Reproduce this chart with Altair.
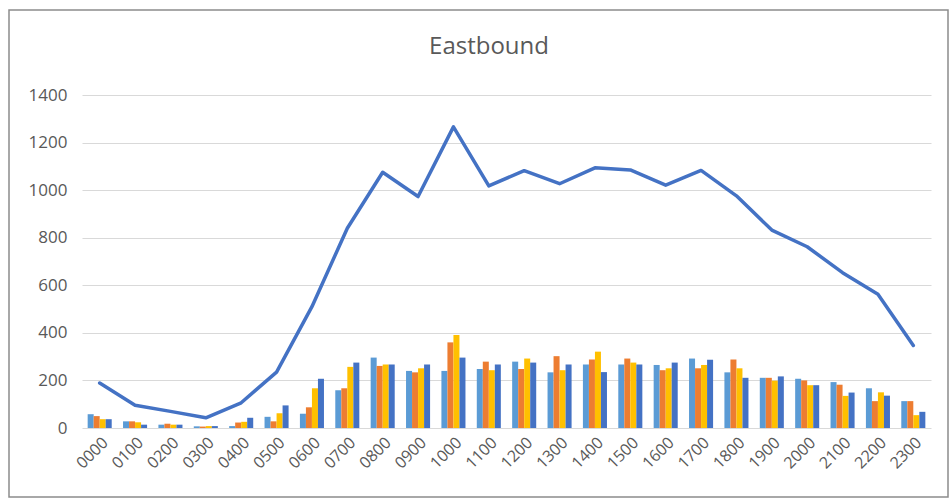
import altair as alt
import pandas as pd

hours = ["0000", "0100", "0200", "0300", "0400", "0500", "0600", "0700", "0800", "0900",
         "1000", "1100", "1200", "1300", "1400", "1500", "1600", "1700", "1800", "1900",
         "2000", "2100", "2200", "2300"]
series_names = ["Series 1", "Series 2", "Series 3", "Series 4"]
series_colors = ["#5B9BD5", "#ED7D31", "#FFC000", "#4472C4"]

s1 = [58, 28, 14, 7, 8, 47, 60, 159, 296, 240, 240, 248, 279, 234, 267, 267, 265, 292, 234, 211, 207, 193, 167, 113]
s2 = [50, 28, 18, 6, 23, 28, 87, 167, 261, 234, 360, 279, 248, 302, 288, 292, 243, 251, 288, 211, 200, 182, 113, 113]
s3 = [37, 24, 14, 8, 26, 62, 167, 257, 267, 251, 391, 243, 292, 243, 321, 275, 251, 265, 251, 199, 180, 135, 150, 54]
s4 = [37, 14, 14, 8, 43, 95, 207, 275, 267, 267, 296, 267, 275, 267, 235, 267, 275, 287, 211, 217, 180, 149, 136, 68]
total = [189, 96, 70, 43, 106, 235, 510, 840, 1075, 973, 1266, 1018, 1082, 1027, 1094, 1085, 1021, 1083, 976,
         832, 762, 653, 562, 347]
title_text = "Eastbound"

rows = []
for name, vals in zip(series_names, [s1, s2, s3, s4]):
    for h, v in zip(hours, vals):
        rows.append({"hour": h, "series": name, "value": v})
bars_df = pd.DataFrame(rows)
line_df = pd.DataFrame({"hour": hours, "total": total})

FONT = "Open Sans"
GREY = "#595959"

x_enc = alt.X("hour:N", sort=hours, title=None,
              scale=alt.Scale(paddingInner=0.32, paddingOuter=0.16),
              axis=alt.Axis(labelAngle=-45, labelFontSize=16, labelColor=GREY, labelFont=FONT,
                            ticks=False, domain=False, labelPadding=6, grid=False))
y_enc = alt.Y("value:Q", title=None,
              scale=alt.Scale(domain=[0, 1400], nice=False),
              axis=alt.Axis(values=list(range(0, 1401, 200)), format="d", labelFontSize=17,
                            labelColor=GREY, labelFont=FONT, ticks=False, domain=False,
                            labelPadding=15, gridColor="#D9D9D9", gridWidth=1))

bars = alt.Chart(bars_df).mark_bar().encode(
    x=x_enc,
    xOffset=alt.XOffset("series:N", sort=series_names,
                        scale=alt.Scale(paddingInner=0, paddingOuter=0)),
    y=y_enc,
    color=alt.Color("series:N", sort=series_names,
                    scale=alt.Scale(domain=series_names, range=series_colors), legend=None),
)

line = alt.Chart(line_df).mark_line(color="#4472C4", strokeWidth=3.5, strokeJoin="round",
                                    strokeCap="round").encode(
    x=alt.X("hour:N", sort=hours),
    y=alt.Y("total:Q"),
)

frame = alt.Chart(alt.Data(values=[{"f": 1}])).mark_rect(
    fill=None, stroke="#8C8C8C", strokeWidth=1.5
).encode(
    x=alt.value(-73), x2=alt.value(866), y=alt.value(-85), y2=alt.value(402)
)

title = alt.Chart(alt.Data(values=[{"t": title_text}])).mark_text(
    font=FONT, fontSize=24, color=GREY, align="center", baseline="middle"
).encode(
    text="t:N", x=alt.value(407), y=alt.value(-48)
)

chart = alt.layer(bars, line, frame, title).properties(
    width=849,
    height=333,
    autosize=alt.AutoSizeParams(type="none"),
    padding={"left": 82, "top": 95, "right": 19, "bottom": 72},
).configure_view(stroke=None)

chart.save("out.html", embed_options={"renderer": "svg", "actions": False})
